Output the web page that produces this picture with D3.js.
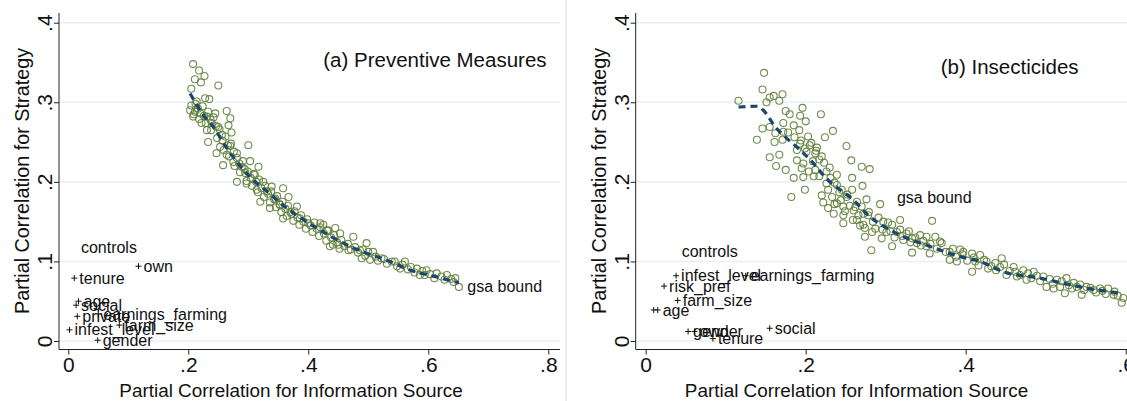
<!DOCTYPE html>
<html><head><meta charset="utf-8">
<script src="https://cdn.jsdelivr.net/npm/d3@7"></script>
<style>body{margin:0;background:#fff}svg{display:block;font-family:"Liberation Sans",Arial,sans-serif}</style>
</head><body><svg id="c" width="1127" height="401"></svg>
<script>
// ---- Panel (a) Preventive Measures ----
const aPointsX = [0.208,0.218,0.227,0.211,0.221,0.250,0.205,0.228,0.235,0.214,0.203,0.211,0.220,0.208,0.231,0.245,0.264,0.270,0.222,0.239,0.250,0.267,0.272,0.231,0.256,0.233,0.300,0.253,0.270,0.247,0.264,0.281,0.258,0.275,0.289,0.303,0.317,0.295,0.311,0.281,0.297,0.325,0.339,0.314,0.331,0.358,0.320,0.345,0.367,0.353,0.381,0.336,0.370,0.358,0.386,0.400,0.420,0.425,0.433,0.445,0.453,0.475,0.436,0.450,0.467,0.497,0.486,0.508,0.489,0.503,0.522,0.539,0.561,0.553,0.581,0.597,0.586,0.614,0.631,0.645,0.651,
 0.205,0.212,0.216,0.209,0.224,0.226,0.218,0.233,0.237,0.229,0.242,0.246,0.238,0.252,0.257,0.248,0.262,0.266,0.259,0.271,0.276,0.268,0.281,0.285,0.277,0.291,0.294,0.286,0.299,0.304,0.297,0.309,0.313,0.306,0.318,0.322,0.316,0.328,0.333,0.326,0.338,0.343,0.336,0.348,0.352,0.346,0.357,0.362,0.355,0.366,0.372,0.364,0.377,0.382,0.375,0.388,0.392,0.385,0.398,0.404,0.396,0.410,0.414,0.407,0.420,0.426,0.418,0.431,0.438,0.430,0.443,0.448,0.441,0.455,0.460,0.452,0.466,0.471,0.478,0.483,0.491,0.495,0.500,0.512,0.516,0.526,0.531,0.544,0.548,0.557,0.566,0.571,0.577,0.590,0.594,0.603,0.610,0.622,0.627,0.638,0.642];
const aPointsY = [0.348,0.340,0.333,0.329,0.325,0.321,0.317,0.305,0.304,0.301,0.290,0.288,0.286,0.282,0.282,0.286,0.289,0.280,0.274,0.274,0.269,0.271,0.262,0.265,0.259,0.250,0.246,0.244,0.245,0.236,0.234,0.236,0.221,0.225,0.219,0.226,0.219,0.211,0.209,0.200,0.201,0.200,0.194,0.190,0.188,0.192,0.175,0.179,0.181,0.171,0.169,0.167,0.162,0.154,0.154,0.148,0.148,0.146,0.139,0.142,0.135,0.131,0.119,0.121,0.114,0.123,0.114,0.112,0.104,0.102,0.104,0.100,0.100,0.091,0.091,0.089,0.083,0.085,0.083,0.079,0.068,
 0.296,0.298,0.292,0.285,0.295,0.283,0.279,0.288,0.278,0.274,0.281,0.270,0.265,0.266,0.252,0.255,0.257,0.246,0.240,0.248,0.238,0.232,0.230,0.223,0.220,0.226,0.216,0.212,0.213,0.205,0.198,0.210,0.200,0.195,0.203,0.192,0.187,0.195,0.185,0.181,0.188,0.178,0.174,0.182,0.172,0.168,0.175,0.166,0.162,0.170,0.160,0.157,0.163,0.155,0.151,0.158,0.150,0.146,0.153,0.145,0.141,0.149,0.141,0.137,0.143,0.135,0.132,0.139,0.130,0.126,0.133,0.124,0.121,0.127,0.119,0.116,0.122,0.115,0.118,0.111,0.115,0.107,0.112,0.106,0.101,0.103,0.097,0.100,0.094,0.096,0.090,0.093,0.086,0.088,0.083,0.084,0.079,0.081,0.077,0.078,0.074];
const aFitX = [0.203,0.225,0.242,0.261,0.281,0.303,0.331,0.364,0.397,0.436,0.475,0.536,0.570,0.611,0.651];
const aFitY = [0.311,0.284,0.269,0.246,0.225,0.206,0.188,0.167,0.150,0.132,0.117,0.100,0.089,0.081,0.073];
const aCtrlNames = ["own","tenure","age","social","private","earnings_farming","farm_size","infest_level","gender"];
const aCtrlX = [0.117,0.010,0.017,0.013,0.015,0.050,0.085,0.002,0.049];
const aCtrlY = [0.094,0.079,0.050,0.045,0.031,0.034,0.020,0.014,0.001];
const aXTicks = [0,0.2,0.4,0.6,0.8];

// ---- Panel (b) Insecticides ----
const bPointsX = [0.148,0.146,0.116,0.160,0.167,0.171,0.155,0.151,0.196,0.219,0.175,0.180,0.193,0.200,0.172,0.146,0.155,0.185,0.192,0.234,0.162,0.172,0.139,0.161,0.171,0.224,0.193,0.205,0.214,0.251,0.189,0.201,0.212,0.220,0.155,0.167,0.189,0.197,0.257,0.163,0.175,0.195,0.212,0.230,0.270,0.280,0.185,0.197,0.210,0.239,0.258,0.226,0.239,0.271,0.199,0.245,0.258,0.182,0.220,0.233,0.251,0.222,0.239,0.264,0.276,0.228,0.247,0.260,0.235,0.247,0.272,0.247,0.264,0.274,
 0.270,0.293,0.278,0.272,0.283,0.274,0.297,0.308,0.318,0.301,0.314,0.295,0.308,0.282,0.326,0.333,0.322,0.358,0.343,0.351,0.339,0.333,0.351,0.362,0.370,0.355,0.380,0.393,0.397,0.380,0.389,0.408,0.418,0.412,0.408,0.426,0.428,0.437,0.445,0.443,0.451,
 0.460,0.472,0.485,0.464,0.476,0.497,0.501,0.514,0.526,0.518,0.535,0.545,0.551,0.560,0.568,0.578,0.585,0.597,0.595,0.539,0.524,0.510,
 0.178,0.186,0.194,0.203,0.207,0.199,0.213,0.217,0.209,0.223,0.226,0.204,0.217,0.231,0.236,0.228,0.242,0.244,0.236,0.252,0.255,0.249,0.262,0.266,0.259,0.268,0.279,0.284,0.287,0.291,0.296,0.303,0.306,0.311,0.318,0.321,0.329,0.331,0.337,0.344,0.347,0.356,0.364,0.368,0.375,0.384,0.388,0.396,0.402,0.410,0.416,0.423,0.432,0.438,0.448,0.455,0.462,0.468,0.478,0.482,0.489,0.493,0.505,0.509,0.520,0.529,0.533,0.543,0.548,0.556,0.563,0.571,0.575,0.586,0.590];
const bPointsY = [0.337,0.316,0.302,0.308,0.302,0.310,0.306,0.300,0.293,0.285,0.289,0.285,0.283,0.276,0.274,0.267,0.269,0.271,0.265,0.264,0.261,0.263,0.253,0.250,0.253,0.256,0.248,0.246,0.243,0.245,0.240,0.238,0.236,0.232,0.231,0.234,0.227,0.223,0.227,0.220,0.215,0.217,0.215,0.218,0.219,0.216,0.205,0.206,0.207,0.209,0.205,0.198,0.196,0.195,0.190,0.190,0.190,0.181,0.183,0.181,0.181,0.174,0.173,0.175,0.178,0.167,0.169,0.164,0.160,0.158,0.160,0.148,0.152,0.142,
 0.169,0.172,0.158,0.146,0.137,0.131,0.150,0.146,0.152,0.137,0.137,0.129,0.119,0.114,0.135,0.129,0.127,0.151,0.133,0.131,0.123,0.111,0.119,0.131,0.123,0.110,0.112,0.115,0.112,0.102,0.100,0.110,0.108,0.100,0.087,0.100,0.091,0.098,0.104,0.093,0.083,
 0.093,0.089,0.087,0.081,0.077,0.081,0.068,0.077,0.079,0.068,0.073,0.058,0.068,0.064,0.066,0.066,0.058,0.054,0.048,0.068,0.060,0.066,
 0.262,0.256,0.252,0.257,0.249,0.242,0.239,0.228,0.226,0.224,0.213,0.213,0.207,0.205,0.199,0.190,0.187,0.177,0.172,0.184,0.170,0.163,0.168,0.158,0.152,0.145,0.162,0.150,0.141,0.155,0.140,0.149,0.138,0.130,0.140,0.132,0.138,0.124,0.130,0.120,0.126,0.122,0.116,0.125,0.112,0.116,0.106,0.109,0.101,0.105,0.095,0.102,0.094,0.089,0.096,0.088,0.087,0.083,0.085,0.079,0.082,0.075,0.078,0.072,0.075,0.070,0.066,0.071,0.064,0.067,0.061,0.063,0.059,0.062,0.057];
const bFitX = [0.116,0.139,0.147,0.162,0.176,0.193,0.210,0.226,0.243,0.260,0.276,0.314,0.355,0.393,0.418,0.447,0.493,0.543,0.593];
const bFitY = [0.294,0.295,0.290,0.269,0.255,0.240,0.223,0.204,0.190,0.177,0.160,0.135,0.119,0.106,0.100,0.087,0.079,0.068,0.060];
const bCtrlNames = ["infest_level","earnings_farming","risk_pref","farm_size","","age","own","gender","tenure","social"];
const bCtrlX = [0.038,0.125,0.023,0.040,0.010,0.015,0.061,0.053,0.084,0.155];
const bCtrlY = [0.082,0.082,0.069,0.051,0.039,0.039,0.012,0.012,0.003,0.016];
const bXTicks = [0,0.2,0.4,0.6];

const yTicks = [0,0.1,0.2,0.3,0.4];
const yTickLabels = ["0",".1",".2",".3",".4"];
const fmtX = d => d === 0 ? "0" : String(d).replace(/^0/,"");

const svg = d3.select("#c");
const GREEN = "#62803a", NAVY = "#1a476f", GRID = "#e9f0f3";

function panel(o){
  const g = svg.append("g");
  const x = d3.scaleLinear().domain([0, o.xmax]).range([o.x0, o.x1]);
  const y = d3.scaleLinear().domain([0, 0.4]).range([341, 22.7]);
  g.selectAll(".grid").data(yTicks).join("line")
    .attr("x1", o.axisX).attr("x2", o.gridEnd)
    .attr("y1", d => y(d)).attr("y2", d => y(d))
    .attr("stroke", GRID).attr("stroke-width", 1.5);
  const ya = g.append("g").attr("transform", `translate(${o.axisX},0)`)
    .call(d3.axisLeft(y).tickValues(yTicks).tickSize(5).tickFormat((d,i)=>yTickLabels[i]));
  ya.select(".domain").attr("d", `M0,13V349.5`).attr("stroke","#222");
  ya.selectAll(".tick line").attr("stroke","#222");
  ya.selectAll(".tick text").attr("font-size", 21).attr("fill","#111")
    .attr("transform","rotate(-90)").attr("x",0).attr("y",-7).attr("dy",0)
    .attr("text-anchor","middle");
  const xa = g.append("g").attr("transform", `translate(0,349.5)`)
    .call(d3.axisBottom(x).tickValues(o.xTicks).tickSize(5).tickFormat(fmtX));
  xa.select(".domain").attr("d", `M${o.axisX},0H${o.gridEnd}`).attr("stroke","#222");
  xa.selectAll(".tick line").attr("stroke","#222");
  xa.selectAll(".tick text").attr("font-size", 21).attr("fill","#111").attr("y", 8).attr("dy","0.71em");
  g.append("text").attr("x", o.xTitleX).attr("y", 397).attr("text-anchor","middle")
    .attr("font-size", 18.9).attr("fill","#111").text("Partial Correlation for Information Source");
  g.append("text").attr("transform", `translate(${o.axisX-30},181) rotate(-90)`).attr("text-anchor","middle")
    .attr("font-size", 19.8).attr("fill","#111").text("Partial Correlation for Strategy");
  g.selectAll(".pt").data(o.px.map((d,i)=>[d,o.py[i]])).join("circle")
    .attr("cx", d => x(d[0])).attr("cy", d => y(d[1])).attr("r", 3.5)
    .attr("fill","none").attr("stroke", GREEN).attr("stroke-width", 1.1).attr("stroke-opacity",0.9);
  g.append("path").datum(o.fx.map((d,i)=>[d,o.fy[i]]))
    .attr("d", d3.line().x(d=>x(d[0])).y(d=>y(d[1])).curve(d3.curveMonotoneX))
    .attr("fill","none").attr("stroke", NAVY).attr("stroke-width", 3.2).attr("stroke-dasharray","7,5");
  o.cn.forEach((n,i)=>{
    const cx = x(o.cx[i]), cy = y(o.cy[i]);
    g.append("path").attr("d", `M${cx-3},${cy}H${cx+3}M${cx},${cy-3}V${cy+3}`).attr("stroke","#111").attr("stroke-width",1);
    if (n) g.append("text").attr("x", cx+5).attr("y", cy).attr("dy","0.35em").attr("font-size",16).attr("fill","#111").text(n);
  });
  g.append("text").attr("x", x(o.ctrl[0])).attr("y", y(o.ctrl[1])).attr("dy","0.35em")
    .attr("font-size",16).attr("fill","#111").text("controls");
  g.append("text").attr("x", x(o.gsa[0])).attr("y", y(o.gsa[1])).attr("dy","0.35em")
    .attr("font-size",16).attr("fill","#111").text("gsa bound");
  g.append("text").attr("x", x(o.title[0])).attr("y", y(o.title[1])).attr("dy","0.35em").attr("text-anchor","middle")
    .attr("font-size",20.5).attr("fill","#111").text(o.titleText);
}

panel({xmax:0.8, x0:68.3, x1:548.3, axisX:59, gridEnd:560, xTicks:aXTicks, xTitleX:291,
  px:aPointsX, py:aPointsY, fx:aFitX, fy:aFitY, cn:aCtrlNames, cx:aCtrlX, cy:aCtrlY,
  ctrl:[0.021,0.117], gsa:[0.665,0.069], title:[0.611,0.353], titleText:"(a) Preventive Measures"});
panel({xmax:0.6, x0:645.7, x1:1125.7, axisX:635.7, gridEnd:1127, xTicks:bXTicks, xTitleX:856.5,
  px:bPointsX, py:bPointsY, fx:bFitX, fy:bFitY, cn:bCtrlNames, cx:bCtrlX, cy:bCtrlY,
  ctrl:[0.045,0.113], gsa:[0.314,0.181], title:[0.455,0.345], titleText:"(b) Insecticides"});
svg.append("line").attr("x1",566).attr("x2",566).attr("y1",0).attr("y2",401).attr("stroke","#ddd").attr("stroke-width",1);
</script></body></html>
